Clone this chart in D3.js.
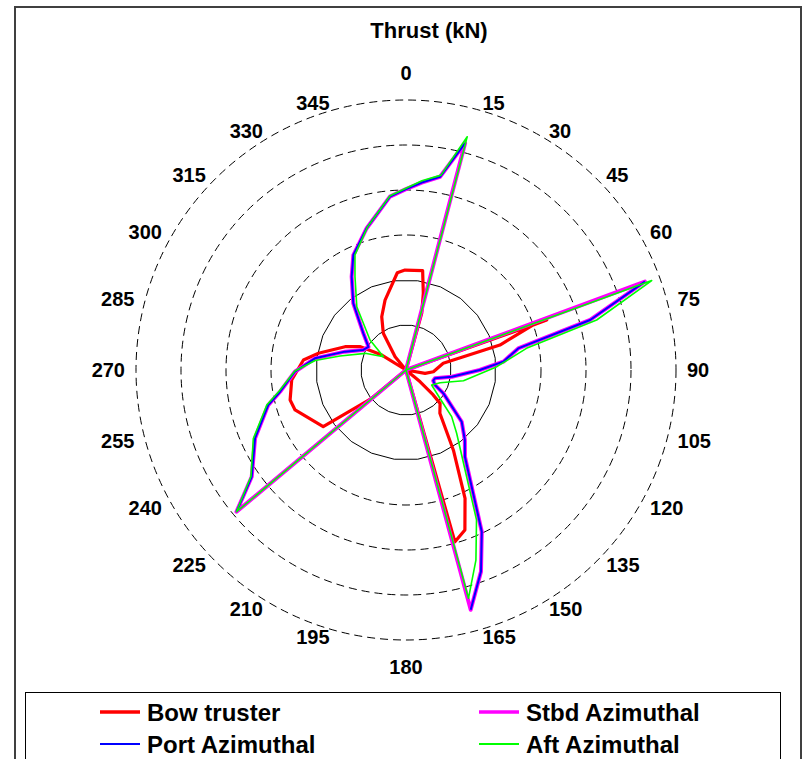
<!DOCTYPE html>
<html>
<head>
<meta charset="utf-8">
<script src="https://cdn.jsdelivr.net/npm/d3@7"></script>
<style>
  html, body { margin: 0; padding: 0; background: #fff; }
  svg { display: block; }
  text { font-family: "Liberation Sans", Arial, Helvetica, sans-serif; font-weight: bold; fill: #000; }
</style>
</head>
<body>
<svg id="chart" width="804" height="759"></svg>
<script>
// ---------- data (angle in degrees clockwise from north, thrust in kN) ----------
const angleTicks = d3.range(0, 360, 15);
const solidRings = [100, 200];
const dashedRings = [300, 400, 500, 600];

const stbdAngle = [20, 14.6, 10.0, 4.8, 0, 354.7, 344.5, 335.4, 329.8, 321.7, 310.7, 301.7, 295.1, 286.7, 277.3, 269.1, 260.2, 255.7, 245.7, 235.3, 230.1,
  200, 69.7, 74.8, 79.1, 85.1, 90, 98.3, 106.0, 111.4, 117.4, 122.0, 132.9, 139.9, 145.8, 154.9, 159.6, 164.9, 170];
const stbdThrust = [0, 521, 436, 418, 402, 387, 327, 281, 240, 189, 125, 98, 105, 142, 204, 247, 284, 316, 368, 417, 491,
  0, 566, 424, 254, 217, 164, 103, 67, 65, 73, 98, 169, 203, 233, 397, 478, 552, 0];

const portAngle = stbdAngle.slice();
const portThrust = [null, 521, 436, 418, 402, 387, 327, 281, 240, 189, 125, 98, 105, 142, 204, 247, 284, 316, 368, 417, 491,
  null, 566, 424, 254, 217, 164, 103, 67, 65, 73, 98, 169, 203, 233, 397, 478, 552, null];

const aftAngle = [20, 14.7, 10.2, 4.8, 0, 354.8, 344.9, 336.1, 331.3, 322.1, 309.8, 300.4, 292.2, 282.0, 276.0, 269.5, 260.5, 255.9, 245.8, 235.5, 230.1,
  200, 70.0, 75.3, 79.8, 82.9, 87.9, 100.6, 110.5, 120.3, 129.8, 135.6, 141.3, 154.8, 159.8, 164.7, 170];
const aftThrust = [0, 536, 440, 422, 404, 389, 329, 280, 236, 178, 104, 58, 98, 150, 203, 247, 286, 319, 372, 418, 491,
  0, 581, 438, 272, 240, 202, 130, 81, 66, 98, 145, 180, 368, 450, 526, 0];

const bowAngle = [330, 320.4, 328.3, 335.5, 343.3, 354.9, 359.4, 9.5, 12.7, 15.5,
  60, 99.9, 93.6, 79.8, 75.1, 70.5, 70.4,
  100, 129.9, 132.5, 134.4, 141.9, 149.4, 155.3, 159.8, 164.1,
  200, 301.7, 296.9, 290.9, 280.8, 275.6, 265.0, 255.5, 250.2, 235.6, 230.5, 230];
const bowThrust = [0, 38, 96, 130, 162, 217, 222, 224, 175, 131,
  0, 43, 61, 84, 216, 300, 332,
  0, 41, 82, 106, 122, 207, 314, 379, 397,
  0, 63, 115, 145, 198, 229, 255, 266, 262, 223, 99, 0];

const seriesNames = ["Bow truster", "Stbd Azimuthal", "Port Azimuthal", "Aft Azimuthal"];
const seriesColors = ["#ff0000", "#ff00ff", "#0000ff", "#00ff00"];
const seriesWidths = [3.2, 4, 2, 1.6];

const titleText = "Thrust (kN)";

// ---------- layout ----------
const W = 804, H = 759;
const cx = 406, cy = 370, R = 270;
const svg = d3.select("#chart");

const rScale = d3.scaleLinear().domain([0, 600]).range([0, R]);
const aScale = d3.scaleLinear().domain([0, 360]).range([0, 2 * Math.PI]);

// outer frame
svg.append("rect")
  .attr("x", 15).attr("y", 7).attr("width", 786).attr("height", 800)
  .attr("fill", "none").attr("stroke", "#404040").attr("stroke-width", 2);

// title
svg.append("text")
  .attr("x", 429).attr("y", 38)
  .attr("text-anchor", "middle")
  .style("font-size", "22px")
  .text(titleText);

const g = svg.append("g").attr("transform", `translate(${cx},${cy})`);

// rings
const ringLine = d3.lineRadial().curve(d3.curveLinearClosed);
solidRings.forEach(v => {
  const pts = d3.range(24).map(i => [aScale(7.5 + i * 15), rScale(v)]);
  g.append("path").attr("d", ringLine(pts))
    .attr("fill", "none").attr("stroke", "#000").attr("stroke-width", 1);
});
dashedRings.forEach(v => {
  g.append("circle").attr("r", rScale(v))
    .attr("fill", "none").attr("stroke", "#000").attr("stroke-width", 1)
    .attr("stroke-dasharray", "8,5");
});

// angle labels (anchored at a point just inside the outer ring)
const lblR = R + 6;
angleTicks.forEach(a => {
  const t = aScale(a);
  const s = Math.sin(t), c = Math.cos(t);
  const px = s * lblR, py = -c * lblR;
  const txt = g.append("text").style("font-size", "20px").text(a);
  if (Math.abs(s) < 0.01) {
    txt.attr("text-anchor", "middle").attr("x", px)
      .attr("y", c > 0 ? py - 14 : py + 28);
  } else {
    txt.attr("text-anchor", s > 0 ? "start" : "end")
      .attr("x", px + (s > 0 ? 5 : -5))
      .attr("y", py + 7);
  }
});

// series
function radialLine(angles, values) {
  const data = angles.map((a, i) => ({ a: a, v: values[i] }));
  return d3.lineRadial()
    .defined(d => d.v !== null)
    .angle(d => aScale(d.a))
    .radius(d => rScale(d.v))(data);
}
const seriesData = [
  [bowAngle, bowThrust],
  [stbdAngle, stbdThrust],
  [portAngle, portThrust],
  [aftAngle, aftThrust]
];
seriesData.forEach((sd, i) => {
  g.append("path")
    .attr("d", radialLine(sd[0], sd[1]))
    .attr("fill", "none")
    .attr("stroke", seriesColors[i])
    .attr("stroke-width", seriesWidths[i])
    .attr("stroke-linejoin", "round");
});

// legend
svg.append("rect")
  .attr("x", 25.5).attr("y", 692.5).attr("width", 755).attr("height", 100)
  .attr("fill", "#fff").attr("stroke", "#000").attr("stroke-width", 1);

const legendOrder = [0, 1, 2, 3];
const legendPos = [[100, 712], [479, 712], [100, 744], [479, 744]];
const legendWidths = [3.5, 3.5, 2, 2];
legendOrder.forEach((si, k) => {
  const [lx, ly] = legendPos[k];
  svg.append("line")
    .attr("x1", lx).attr("x2", lx + 40).attr("y1", ly).attr("y2", ly)
    .attr("stroke", seriesColors[si]).attr("stroke-width", legendWidths[k]);
  svg.append("text")
    .attr("x", lx + 47).attr("y", ly + 8.5)
    .style("font-size", "24px")
    .text(seriesNames[si]);
});
</script>
</body>
</html>
